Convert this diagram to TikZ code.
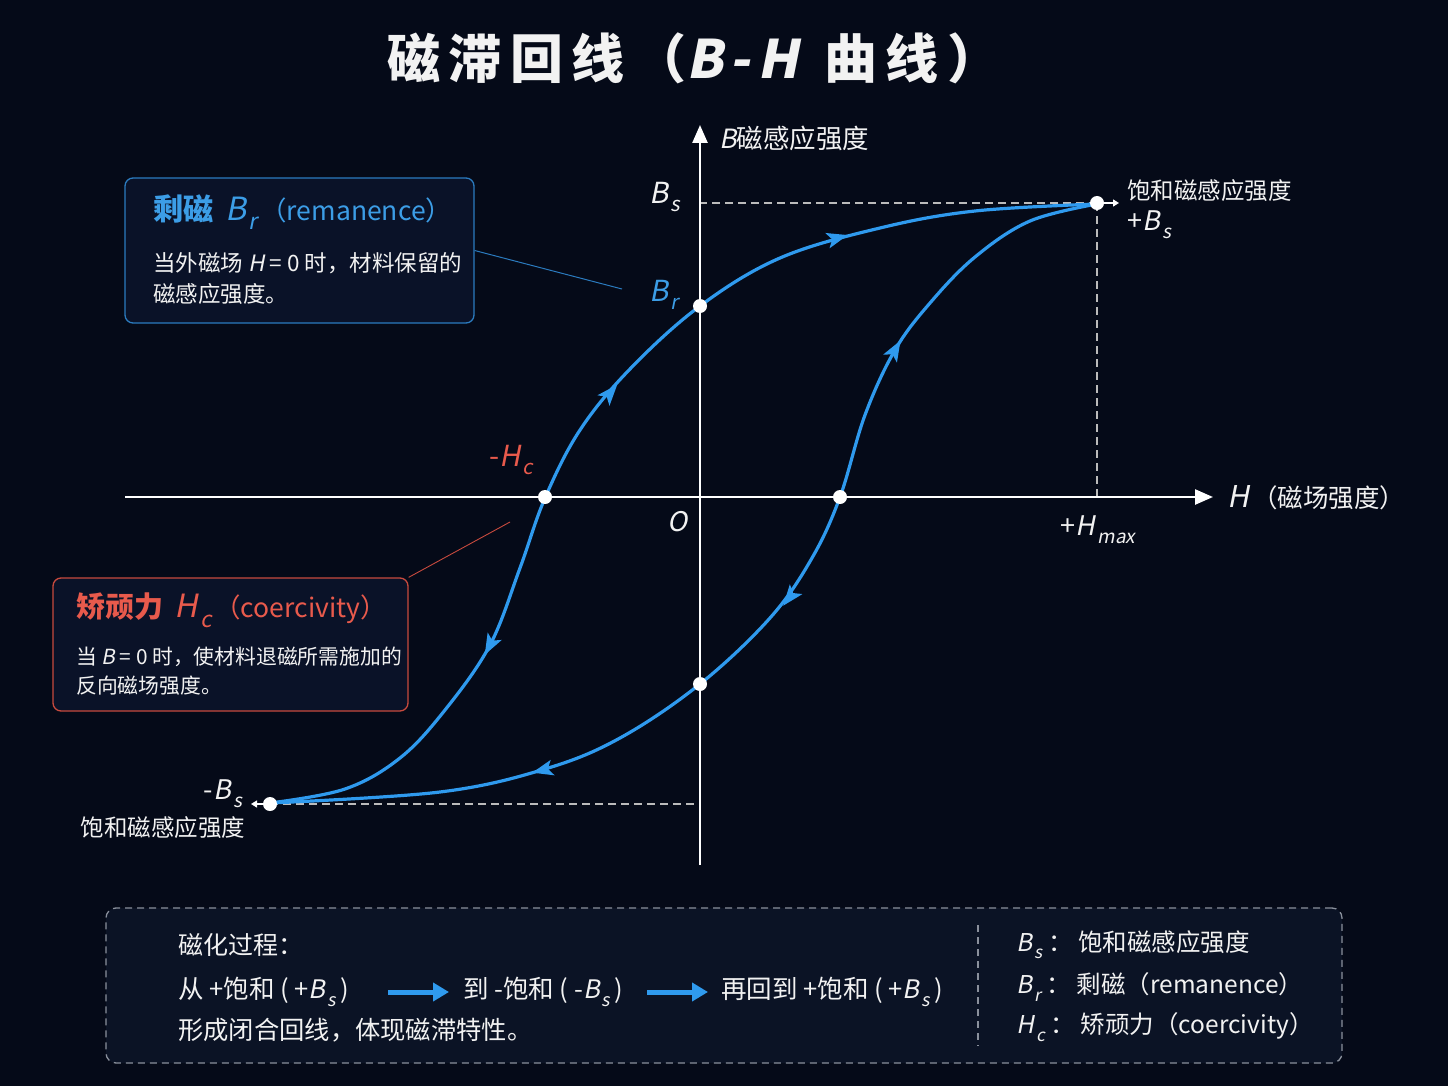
\documentclass[tikz,border=0pt]{standalone}
\usepackage{fontspec}
\setmainfont{Noto Sans CJK SC}
\newfontfamily\itf[FakeSlant=0.2]{Noto Sans CJK SC}
\usetikzlibrary{arrows.meta}
\definecolor{bg}{HTML}{050A18}
\definecolor{cblue}{HTML}{2F9AEE}
\definecolor{lblue}{HTML}{3C9DE6}
\definecolor{cred}{HTML}{E85A4C}
\definecolor{bred}{HTML}{C84A3E}
\definecolor{bblue}{HTML}{2B7BBF}
\definecolor{txt}{HTML}{F2F2F2}
\definecolor{dgrey}{HTML}{BBBBBB}
\definecolor{lgrey}{HTML}{8A909C}
\definecolor{boxfill}{HTML}{0A1228}
\definecolor{legfill}{HTML}{0B1325}
\newcommand\fs[1]{\fontsize{#1}{#1}\selectfont}
\newcommand\Sym[2]{{\itf #1\kern0.08em\raisebox{-0.3em}{\scalebox{0.7}{#2}}}}
\tikzset{
  pics/ahead/.style={code={\fill[cblue,rotate=#1] (11,0) -- (-10,8) -- (-5,0) -- (-10,-8) -- cycle;}},
  dot/.style={circle,fill=white,minimum size=14pt,inner sep=0pt},
  curve/.style={cblue,line width=3.2pt,line join=round},
  axis/.style={white,line width=2.5pt,-{Triangle[length=18pt,width=15pt]}},
  guide/.style={dgrey,line width=1.5pt,dash pattern=on 8pt off 5pt},
  lbl/.style={text=txt,inner sep=0pt},
  infobox/.style={rounded corners=8pt,line width=1.3pt,fill=boxfill,inner sep=0pt},
  flowarrow/.style={cblue,line width=5pt,-{Triangle[length=16pt,width=18pt]}},
  smallarrow/.style={white,line width=1.3pt,-{Triangle[length=6pt,width=7pt]}},
}
\begin{document}
\begin{tikzpicture}[x=1pt,y=-1pt]
\fill[bg] (0,0) rectangle (1448,1086);
\useasboundingbox (0,0) rectangle (1448,1086);

% title
\node[lbl] (title) at (694,58) {\fs{53}\bfseries\addfontfeature{LetterSpace=16}磁滞回线（{\itf B\kern6pt-\kern8pt H}\kern26pt 曲线）};

% key coordinates
\coordinate (Hstart) at (125,497);
\coordinate (Hend) at (1213,497);
\coordinate (Bstart) at (700,865);
\coordinate (Bend) at (700,125);
\coordinate (BsAxis) at (700,203);
\coordinate (HmaxAxis) at (1097,497);
\coordinate (mBsAxis) at (700,804);

% guides
\draw[guide] (1097,203) -- (BsAxis);
\draw[guide] (1097,203) -- (HmaxAxis);
\draw[guide] (270,804) -- (mBsAxis);

% axes
\draw[axis] (Hstart) -- (Hend);
\draw[axis] (Bstart) -- (Bend);

% curves
\draw[curve] plot[smooth,tension=0.6] coordinates {(270,803) (345,789) (400,758) (445,710) (490,645) (520,568) (545,498) (580,430) (630,369) (700,306) (780,258) (880,228) (975,211) (1097,204)};
\draw[curve] plot[smooth,tension=0.6] coordinates {(1097,204) (1030,221) (975,257) (930,303) (895,350) (865,415) (840,497) (812,558) (770,618) (700,684) (620,738) (545,769) (440,792) (270,803)};

% arrowheads on curves
\pic at (490,645) {ahead=242};
\pic at (610,393) {ahead=49};
\pic at (837,238) {ahead=15.5};
\pic at (895,350) {ahead=60};
\pic at (790,597) {ahead=232};
\pic at (543,770) {ahead=194};

% dots
\node[dot] (Br) at (700,306) {};
\node[dot] (mHc) at (545,497) {};
\node[dot] (pHc) at (840,497) {};
\node[dot] (mBr) at (700,684) {};
\node[dot] (pBs) at (1097,203) {};
\node[dot] (mBs) at (270,804) {};

\coordinate (pBsTip) at (1119,203);
\coordinate (mBsTip) at (251,804);
\draw[smallarrow] (pBs.east) -- (pBsTip);
\draw[smallarrow] (mBs.west) -- (mBsTip);

% axis labels
\node[lbl,anchor=west] (Blab) at (719,138) {\fs{26.5}{\itf B}磁感应强度};
\node[lbl,anchor=west] (Hlab) at (1227,498) {{\fs{30}\itf H}\kern3pt\fs{25.5}（磁场强度）};
\node[lbl] (Olab) at (678,522) {\fs{27}\itf O};
\node[lbl] (Bslab) at (665,197) {\fs{29}\Sym{B}{s}};
\node[lbl,text=lblue] (Brlab) at (664,295) {\fs{29}\Sym{B}{r}};
\node[lbl,text=cred] (Hclab) at (511,460) {\fs{29}-\Sym{H}{c}};
\node[lbl] (Hmaxlab) at (1098,530) {\fs{27}+\Sym{H}{max}};
\node[lbl,anchor=west] (satlab) at (1127,191) {\fs{23.5}饱和磁感应强度};
\node[lbl,anchor=west] (pBslab) at (1127,225) {\fs{27}+\Sym{B}{s}};
\node[lbl] (mBslab) at (223,794) {\fs{27}-\Sym{B}{s}};
\node[lbl] (msatlab) at (163,828) {\fs{23.5}饱和磁感应强度};

% remanence box
\node[infobox,draw=bblue,minimum width=349pt,minimum height=145pt] (box1) at (299.5,250.5) {};
\node[lbl,anchor=west,text=lblue] (box1title) at (153,212) {{\fs{30}\bfseries 剩磁}\hspace{12pt}{\fs{32}\Sym{B}{r}}\hspace{3pt}\fs{26.5}（remanence）};
\node[lbl,anchor=west] (box1l1) at (153,263) {\fs{22.5}当外磁场 {\itf H} = 0 时，材料保留的};
\node[lbl,anchor=west] (box1l2) at (153,294) {\fs{22.5}磁感应强度。};
\coordinate (brlead) at (622,289);
\draw[bblue,line width=1pt] (box1.east) -- (brlead);

% coercivity box
\node[infobox,draw=bred,minimum width=355pt,minimum height=133pt] (box2) at (230.5,644.5) {};
\node[lbl,anchor=west,text=cred] (box2title) at (76,610) {{\fs{29}\bfseries 矫顽力}\hspace{11pt}{\fs{32}\Sym{H}{c}}\hspace{3pt}\fs{26.5}（coercivity）};
\node[lbl,anchor=west] (box2l1) at (76,657) {\fs{20.8}当 {\itf B} = 0 时，使材料退磁所需施加的};
\node[lbl,anchor=west] (box2l2) at (76,686) {\fs{20.8}反向磁场强度。};
\coordinate (hclead) at (510,522);
\draw[bred,line width=0.9pt] (box2.north east) -- (hclead);

% legend box
\node[draw=lgrey,rounded corners=10pt,line width=1.3pt,dash pattern=on 7pt off 5pt,fill=legfill,minimum width=1236pt,minimum height=155pt,inner sep=0pt] (legend) at (724,985.5) {};
\coordinate (divtop) at (978,925);
\coordinate (divbot) at (978,1046);
\draw[lgrey,line width=1.2pt,dash pattern=on 7pt off 5pt] (divtop) -- (divbot);

\node[lbl,anchor=west] (proc) at (178,945) {\fs{25}磁化过程：};
\node[lbl,anchor=west] (step1) at (178,992) {\fs{25.5}从 +饱和 ( +\Sym{B}{s}\,)};
\node[lbl,anchor=west] (step2) at (463,992) {\fs{25.5}到 -饱和 ( -\Sym{B}{s}\,)};
\node[lbl,anchor=west] (step3) at (721,992) {\fs{25.5}再回到 +饱和 ( +\Sym{B}{s}\,)};
\coordinate (a1s) at (388,992);
\coordinate (a1e) at (449,992);
\coordinate (a2s) at (647,992);
\coordinate (a2e) at (708,992);
\draw[flowarrow] (a1s) -- (a1e);
\draw[flowarrow] (a2s) -- (a2e);
\node[lbl,anchor=west] (closing) at (178,1030) {\fs{25.3}形成闭合回线，体现磁滞特性。};

\node[lbl,anchor=west] (leg1) at (1016,945) {\fs{24.5}\Sym{B}{s}\hspace{6pt}： 饱和磁感应强度};
\node[lbl,anchor=west] (leg2) at (1016,987) {\fs{24.5}\Sym{B}{r}\hspace{6pt}： 剩磁（remanence）};
\node[lbl,anchor=west] (leg3) at (1016,1027) {\fs{24.5}\Sym{H}{c}\hspace{6pt}： 矫顽力（coercivity）};
\end{tikzpicture}
\end{document}
